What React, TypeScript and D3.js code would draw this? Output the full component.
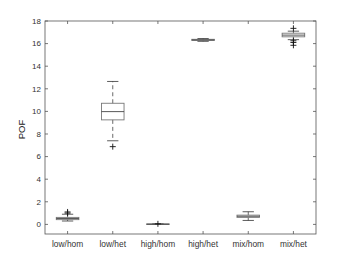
import React from "react";
import { scaleLinear } from "d3";

// box plot stats
const categories = ["low/hom", "low/het", "high/hom", "high/het", "mix/hom", "mix/het"];
const whiskerLow = [0.3, 7.4, 0.0, 16.2, 0.35, 16.35];
const q1 = [0.42, 9.25, 0.0, 16.27, 0.62, 16.6];
const median = [0.52, 9.98, 0.02, 16.33, 0.72, 16.75];
const q3 = [0.62, 10.72, 0.04, 16.38, 0.82, 16.92];
const whiskerHigh = [0.9, 12.65, 0.05, 16.45, 1.12, 17.1];
const outliers = [[1.0, 1.1], [6.88], [0.05], [], [], [17.35, 16.25, 16.1, 15.85]];
const yTicks = [0, 2, 4, 6, 8, 10, 12, 14, 16, 18];

const W = 350;
const H = 263;
const left = 45;
const right = 316;
const top = 21;
const bottom = 234;

const App = () => {
  const x = scaleLinear().domain([0.5, 6.5]).range([left, right]);
  const y = scaleLinear().domain([-0.85, 18]).range([bottom, top]);
  const boxW = x(1.25) - x(0.75);
  const capW = boxW / 2;
  const axisColor = "#555";
  const font = "'Liberation Sans', Arial, sans-serif";

  return (
    <svg width={W} height={H} style={{ position: "absolute", left: 0, top: 0, background: "#fff" }}>
      {/* frame */}
      <rect x={left} y={top} width={right - left} height={bottom - top} fill="none" stroke={axisColor} strokeWidth={0.8} />

      {/* y ticks */}
      {yTicks.map((t) => (
        <g key={"y" + t}>
          <line x1={left} x2={left + 3} y1={y(t)} y2={y(t)} stroke={axisColor} strokeWidth={0.8} />
          <line x1={right} x2={right - 3} y1={y(t)} y2={y(t)} stroke={axisColor} strokeWidth={0.8} />
          <text x={left - 4} y={y(t)} dy="0.35em" textAnchor="end" fontSize={8} fontFamily={font} fill="#333">
            {t}
          </text>
        </g>
      ))}

      {/* x ticks */}
      {categories.map((c, i) => (
        <g key={"x" + c}>
          <line x1={x(i + 1)} x2={x(i + 1)} y1={bottom} y2={bottom - 3} stroke={axisColor} strokeWidth={0.8} />
          <line x1={x(i + 1)} x2={x(i + 1)} y1={top} y2={top + 3} stroke={axisColor} strokeWidth={0.8} />
          <text x={x(i + 1)} y={247} textAnchor="middle" fontSize={8.4} fontFamily={font} fill="#333">
            {c}
          </text>
        </g>
      ))}

      <text
        transform={`translate(25,${(top + bottom) / 2 + 2}) rotate(-90)`}
        textAnchor="middle"
        fontSize={9.5}
        fontFamily={font}
        fill="#222"
      >
        POF
      </text>

      {/* boxes */}
      {categories.map((c, i) => {
        const cx = x(i + 1);
        return (
          <g key={"b" + c}>
            <line x1={cx} x2={cx} y1={y(q3[i])} y2={y(whiskerHigh[i])} stroke="#444" strokeWidth={0.8} strokeDasharray="4,3" />
            <line x1={cx} x2={cx} y1={y(q1[i])} y2={y(whiskerLow[i])} stroke="#444" strokeWidth={0.8} strokeDasharray="4,3" />
            <line x1={cx - capW / 2} x2={cx + capW / 2} y1={y(whiskerHigh[i])} y2={y(whiskerHigh[i])} stroke="#333" strokeWidth={0.8} />
            <line x1={cx - capW / 2} x2={cx + capW / 2} y1={y(whiskerLow[i])} y2={y(whiskerLow[i])} stroke="#333" strokeWidth={0.8} />
            <rect
              x={cx - boxW / 2}
              y={y(q3[i])}
              width={boxW}
              height={Math.max(y(q1[i]) - y(q3[i]), 0.5)}
              fill="none"
              stroke="#777"
              strokeWidth={0.9}
            />
            <line x1={cx - boxW / 2} x2={cx + boxW / 2} y1={y(median[i])} y2={y(median[i])} stroke="#444" strokeWidth={0.9} />
            {outliers[i].map((o, j) => (
              <g key={j} stroke="#111" strokeWidth={0.9}>
                <line x1={cx - 3} x2={cx + 3} y1={y(o)} y2={y(o)} />
                <line x1={cx} x2={cx} y1={y(o) - 3} y2={y(o) + 3} />
              </g>
            ))}
          </g>
        );
      })}
    </svg>
  );
};

export default App;
